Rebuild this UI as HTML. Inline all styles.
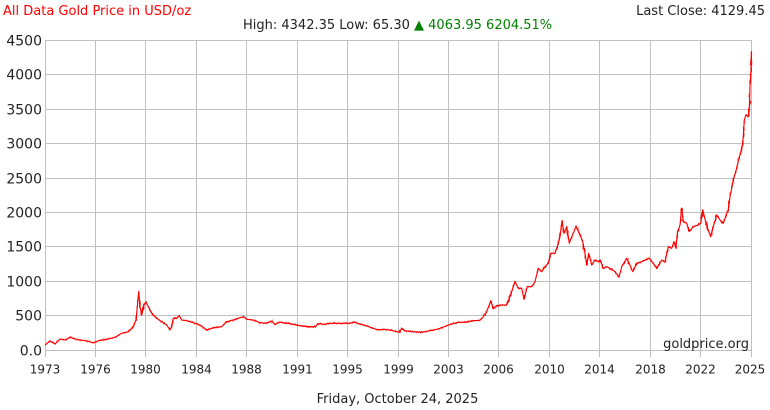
<!DOCTYPE html>
<html><head><meta charset="utf-8"><style>
html,body{margin:0;padding:0;background:#fff;}
svg{display:block;}
text{font-family:"DejaVu Sans",Verdana,"Liberation Sans",sans-serif;}
</style></head><body>
<svg id="s" width="770" height="410" viewBox="0 0 770 410" xmlns="http://www.w3.org/2000/svg">
<defs>
<filter id="jit" filterUnits="userSpaceOnUse" x="35" y="30" width="730" height="330">
<feTurbulence type="fractalNoise" baseFrequency="1.3 0.15" numOctaves="1" seed="7" result="n"/>
<feDisplacementMap in="SourceGraphic" in2="n" scale="4" xChannelSelector="R" yChannelSelector="G"/>
</filter>
</defs>
<rect x="0" y="0" width="770" height="410" fill="#fff"/>
<g stroke="#c0c0c0" stroke-width="1" shape-rendering="crispEdges">
<line x1="45" y1="40.5" x2="751" y2="40.5"/>
<line x1="45" y1="74.5" x2="751" y2="74.5"/>
<line x1="45" y1="109.5" x2="751" y2="109.5"/>
<line x1="45" y1="143.5" x2="751" y2="143.5"/>
<line x1="45" y1="178.5" x2="751" y2="178.5"/>
<line x1="45" y1="212.5" x2="751" y2="212.5"/>
<line x1="45" y1="246.5" x2="751" y2="246.5"/>
<line x1="45" y1="281.5" x2="751" y2="281.5"/>
<line x1="45" y1="315.5" x2="751" y2="315.5"/>
<line x1="45" y1="350.5" x2="751" y2="350.5"/>
<line x1="45.5" y1="40" x2="45.5" y2="357"/>
<line x1="95.5" y1="40" x2="95.5" y2="357"/>
<line x1="145.5" y1="40" x2="145.5" y2="357"/>
<line x1="196.5" y1="40" x2="196.5" y2="357"/>
<line x1="246.5" y1="40" x2="246.5" y2="357"/>
<line x1="297.5" y1="40" x2="297.5" y2="357"/>
<line x1="347.5" y1="40" x2="347.5" y2="357"/>
<line x1="398.5" y1="40" x2="398.5" y2="357"/>
<line x1="448.5" y1="40" x2="448.5" y2="357"/>
<line x1="498.5" y1="40" x2="498.5" y2="357"/>
<line x1="549.5" y1="40" x2="549.5" y2="357"/>
<line x1="599.5" y1="40" x2="599.5" y2="357"/>
<line x1="650.5" y1="40" x2="650.5" y2="357"/>
<line x1="700.5" y1="40" x2="700.5" y2="357"/>
<line x1="751.5" y1="40" x2="751.5" y2="357"/>
</g>
<g font-size="14" fill="#222" text-anchor="end">
<text x="42" y="45.5">4500</text>
<text x="42" y="79.5">4000</text>
<text x="42" y="114.5">3500</text>
<text x="42" y="148.5">3000</text>
<text x="42" y="183.5">2500</text>
<text x="42" y="217.5">2000</text>
<text x="42" y="251.5">1500</text>
<text x="42" y="286.5">1000</text>
<text x="42" y="320.5">500</text>
<text x="42" y="355.5">0.0</text>
</g>
<g font-size="12" fill="#222" text-anchor="middle">
<text x="45" y="373.5">1973</text>
<text x="95.5" y="373.5">1976</text>
<text x="145.5" y="373.5">1980</text>
<text x="196.5" y="373.5">1984</text>
<text x="246.5" y="373.5">1988</text>
<text x="297.5" y="373.5">1991</text>
<text x="347.5" y="373.5">1995</text>
<text x="398.5" y="373.5">1999</text>
<text x="448.5" y="373.5">2003</text>
<text x="498.5" y="373.5">2006</text>
<text x="549.5" y="373.5">2010</text>
<text x="599.5" y="373.5">2014</text>
<text x="650.5" y="373.5">2018</text>
<text x="700.5" y="373.5">2022</text>
<text x="750" y="373.5">2025</text>
</g>
<text x="749" y="348" font-size="13" fill="#222" text-anchor="end">goldprice.org</text>
<text x="397.5" y="403" font-size="13" fill="#222" text-anchor="middle">Friday, October 24, 2025</text>
<text x="3" y="15" font-size="13" fill="#ff0000">All Data Gold Price in USD/oz</text>
<text x="765" y="15" font-size="13" fill="#222" text-anchor="end">Last Close: 4129.45</text>
<text x="243" y="29" font-size="13" fill="#222">High: 4342.35 Low: 65.30 <tspan fill="#008000">▲ 4063.95 6204.51%</tspan></text>
<g fill="none" stroke="#ff0000" stroke-linejoin="round">
<polyline id="base" stroke-width="1.1" points="45,345 50,341 55,344 60,339 65,340 70,337.3 75,339 80,340 86.7,341 93.3,342.7 98.3,340.7 106.7,339.3 115,337.3 121.7,333.3 128.3,331.7 133.3,326.7 136,320 137.3,306.7 138.7,291.7 140,306.7 141.7,315 144,305 146,301.7 148.3,306.7 151.7,313.3 156.7,318.3 161.7,321.7 166.7,325 170,330 171.7,326.7 173.3,318.3 176.7,318.3 179.3,315.7 181.7,320 186.7,320.7 193.3,322.7 200,325 206.7,330 213.3,327.7 221.7,326.7 226.7,321.7 233.3,320 240,317.7 244,316.7 246.7,319.3 253.3,320 260,322.7 266.7,323.3 271.7,321 275,324.3 280,322.3 286.7,323.3 293.3,324.3 300,325.7 308.3,326.7 315,326.7 318.3,323.7 323.3,324.3 330,323.3 340,323.3 350,323.3 353.3,322 360,324 366.7,326 373.3,328.3 378.3,330 383.3,329.3 390,330 396.7,331.7 399.3,332.3 401.7,328.3 405,330.7 413.3,331.7 421.7,332.3 430,330.7 438.3,329 446.7,325.7 450,324.3 458.3,322.3 465,322.3 473.3,320.7 480,320.3 483.3,316.7 486.7,311.7 490.7,301 493.3,308.3 496.7,306 501.7,305 506.7,305 510,296.7 515,281.7 518.3,288.3 521.7,288.3 524,299.3 527.3,286.7 531.7,286.7 535,281.7 538.3,268.3 541.7,271.7 545,266.7 548.3,263.3 550.7,253.3 555,253.3 557.3,246.7 560,236.7 562,220.7 564,233.3 566.7,226.7 569.3,243.3 571.7,236.7 574,231.7 576,226 579.3,233.3 582.7,241.7 585,253.3 586.7,265 588.7,253.3 591.7,265 595,260 598.3,261.7 600,260 603.3,268.3 606.7,266.7 610,268.3 615,271.7 619,277.3 621.7,266.7 626.7,258.3 630,265 632.7,271.7 636.7,263.3 641.7,261.7 645,260 649.3,258.3 653.3,263.3 656.7,268.3 661.7,260 665,261.7 668.3,246.7 671.7,248.3 674,241.7 676,248.3 677.3,233.3 680,225 681.7,208.3 683.3,221.7 686.7,223.3 689.3,231.7 693.3,226.7 698.3,225 700.7,223.3 702.7,210 706,223.3 708.3,230 710.7,236.7 713.3,226.7 716.7,215 720,220 723.3,223.3 726.7,213.3 728.3,210 730,196.7 733.3,180 736.7,168.3 739.3,156.7 741.7,150 743.3,136.7 744.3,120 746,115 748.3,116.7 749.3,110 750,86.7 751,70 751.3,51.7 751.7,65.5"/>
<polyline stroke-width="1" filter="url(#jit)" points="45,345 50,341 55,344 60,339 65,340 70,337.3 75,339 80,340 86.7,341 93.3,342.7 98.3,340.7 106.7,339.3 115,337.3 121.7,333.3 128.3,331.7 133.3,326.7 136,320 137.3,306.7 138.7,291.7 140,306.7 141.7,315 144,305 146,301.7 148.3,306.7 151.7,313.3 156.7,318.3 161.7,321.7 166.7,325 170,330 171.7,326.7 173.3,318.3 176.7,318.3 179.3,315.7 181.7,320 186.7,320.7 193.3,322.7 200,325 206.7,330 213.3,327.7 221.7,326.7 226.7,321.7 233.3,320 240,317.7 244,316.7 246.7,319.3 253.3,320 260,322.7 266.7,323.3 271.7,321 275,324.3 280,322.3 286.7,323.3 293.3,324.3 300,325.7 308.3,326.7 315,326.7 318.3,323.7 323.3,324.3 330,323.3 340,323.3 350,323.3 353.3,322 360,324 366.7,326 373.3,328.3 378.3,330 383.3,329.3 390,330 396.7,331.7 399.3,332.3 401.7,328.3 405,330.7 413.3,331.7 421.7,332.3 430,330.7 438.3,329 446.7,325.7 450,324.3 458.3,322.3 465,322.3 473.3,320.7 480,320.3 483.3,316.7 486.7,311.7 490.7,301 493.3,308.3 496.7,306 501.7,305 506.7,305 510,296.7 515,281.7 518.3,288.3 521.7,288.3 524,299.3 527.3,286.7 531.7,286.7 535,281.7 538.3,268.3 541.7,271.7 545,266.7 548.3,263.3 550.7,253.3 555,253.3 557.3,246.7 560,236.7 562,220.7 564,233.3 566.7,226.7 569.3,243.3 571.7,236.7 574,231.7 576,226 579.3,233.3 582.7,241.7 585,253.3 586.7,265 588.7,253.3 591.7,265 595,260 598.3,261.7 600,260 603.3,268.3 606.7,266.7 610,268.3 615,271.7 619,277.3 621.7,266.7 626.7,258.3 630,265 632.7,271.7 636.7,263.3 641.7,261.7 645,260 649.3,258.3 653.3,263.3 656.7,268.3 661.7,260 665,261.7 668.3,246.7 671.7,248.3 674,241.7 676,248.3 677.3,233.3 680,225 681.7,208.3 683.3,221.7 686.7,223.3 689.3,231.7 693.3,226.7 698.3,225 700.7,223.3 702.7,210 706,223.3 708.3,230 710.7,236.7 713.3,226.7 716.7,215 720,220 723.3,223.3 726.7,213.3 728.3,210 730,196.7 733.3,180 736.7,168.3 739.3,156.7 741.7,150 743.3,136.7 744.3,120 746,115 748.3,116.7 749.3,110 750,86.7 751,70 751.3,51.7 751.7,65.5"/>
</g>
</svg>
</body></html>
